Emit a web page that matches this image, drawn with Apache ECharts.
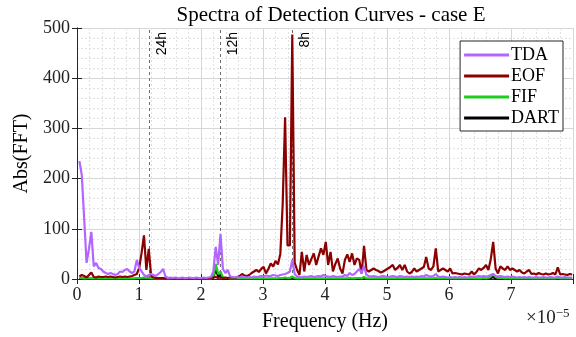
<!DOCTYPE html>
<html>
<head>
<meta charset="utf-8">
<script src="https://cdn.jsdelivr.net/npm/echarts@6/dist/echarts.min.js"></script>
<style>html,body{margin:0;padding:0;background:#fff}#c{width:576px;height:337px}</style>
</head>
<body>
<div id="c"></div>
<script>
// frequency step: 1/(30 days) in units of 1e-5 Hz; bins 1..207
const freqStepE5 = 0.03858;
const xTicks = [0, 1, 2, 3, 4, 5, 6, 7];
const yTicks = [0, 100, 200, 300, 400, 500];
const periodLines = [1.1574, 2.3148, 3.4722];
const periodLabels = ['24h', '12h', '8h'];
const seriesNames = ['TDA', 'EOF', 'FIF', 'DART'];

const tda = [
 235,207,120,32,60,94,25,32,22,20,
 15,12,10,12,10,8,10,15,14,18,
 20,15,12,15,38,22,15,8,5,8,
 10,8,6,10,14,20,5,2,3,2,
 3,2,2,3,2,2,3,2,2,3,
 2,2,3,2,3,4,15,64,28,90,
 20,12,18,5,4,3,4,3,5,4,
 3,4,3,5,4,5,6,5,7,6,
 6,8,7,6,8,9,10,12,15,38,
 10,5,4,3,5,4,5,6,4,5,
 6,5,8,6,5,4,6,5,4,5,
 5,8,6,12,8,10,15,20,12,26,
 8,6,5,6,5,4,5,6,5,4,
 5,6,5,4,6,5,4,5,4,5,
 4,5,4,6,5,8,6,5,6,10,
 5,4,5,4,3,4,3,4,3,4,
 3,4,3,4,5,4,5,6,5,6,
 5,6,8,10,6,5,6,5,4,5,
 4,5,4,3,4,3,4,3,4,3,
 3,4,3,3,4,3,3,4,3,3,
 5,3,3,4,3,3,3
];
const eof = [
 5,8,6,3,8,13,4,3,5,4,
 4,5,4,5,4,3,4,5,4,5,
 4,5,6,8,10,22,52,87,18,60,
 6,3,2,2,2,2,1,2,2,1,
 1,2,1,1,2,1,1,1,2,1,
 1,1,2,1,2,2,3,4,2,3,
 2,3,2,3,3,2,4,6,10,7,
 6,8,12,15,18,14,20,24,11,20,
 31,25,36,29,50,150,322,67,67,487,
 32,18,8,54,15,48,28,40,51,28,
 45,61,48,74,28,54,15,30,41,21,
 11,38,49,34,51,28,41,38,11,66,
 18,15,18,21,18,16,13,15,18,21,
 24,28,18,22,28,18,28,15,11,14,
 21,15,18,21,24,44,21,18,25,61,
 15,18,21,18,15,21,11,12,11,10,
 9,11,10,9,15,9,14,21,18,22,
 28,18,40,74,21,11,25,21,18,25,
 18,21,18,15,18,13,11,15,18,10,
 11,9,12,10,9,11,9,10,12,9,
 23,9,10,9,8,10,9
];
const fif = [
 2,2,1,1,2,1,1,1,1,1,
 1,1,1,1,1,1,1,1,1,1,
 1,1,1,1,2,2,2,3,2,3,
 1,1,1,1,1,1,1,1,1,1,
 1,1,1,1,1,1,1,1,1,1,
 1,1,1,1,1,1,4,30,10,15,
 3,2,2,1,1,1,1,1,1,1,
 1,1,1,1,1,1,1,1,1,1,
 1,1,1,1,2,2,3,2,2,5,
 2,1,1,1,1,1,1,1,1,1,
 1,1,1,1,1,1,1,1,1,1,
 1,1,1,2,1,1,2,2,1,4,
 1,1,1,1,1,1,1,1,1,1,
 1,1,1,1,1,1,1,1,1,1,
 1,1,1,1,1,1,1,1,1,2,
 1,1,1,1,1,1,1,1,1,1,
 1,1,1,1,1,1,1,1,1,2,
 1,2,5,10,4,2,2,2,1,2,
 1,1,1,1,1,1,1,1,1,1,
 1,1,1,1,1,1,1,1,1,1,
 2,1,1,1,1,1,1
];
const dart = [
 1,1,1,0.5,1,0.5,0.5,0.5,0.5,0.5,
 0.5,0.5,0.5,0.5,0.5,0.5,0.5,0.5,0.5,0.5,
 0.5,0.5,0.5,0.5,1,1,1,2,1,3,
 0.5,0.5,0.5,0.5,0.5,0.5,0.5,0.5,0.5,0.5,
 0.5,0.5,0.5,0.5,0.5,0.5,0.5,0.5,0.5,0.5,
 0.5,0.5,0.5,0.5,0.5,0.5,2,20,5,8,
 1,0.5,0.5,0.5,0.5,0.5,0.5,0.5,0.5,0.5,
 0.5,0.5,0.5,0.5,0.5,0.5,0.5,0.5,0.5,0.5,
 0.5,0.5,0.5,0.5,1,1,1,1,1,3,
 1,0.5,0.5,0.5,0.5,0.5,0.5,0.5,0.5,0.5,
 0.5,0.5,0.5,0.5,0.5,0.5,0.5,0.5,0.5,0.5,
 0.5,0.5,0.5,0.5,0.5,0.5,0.5,0.5,0.5,1,
 0.5,0.5,0.5,0.5,0.5,0.5,0.5,0.5,0.5,0.5,
 0.5,0.5,0.5,0.5,0.5,0.5,0.5,0.5,0.5,0.5,
 0.5,0.5,0.5,0.5,0.5,0.5,0.5,0.5,0.5,0.5,
 0.5,0.5,0.5,0.5,0.5,0.5,0.5,0.5,0.5,0.5,
 0.5,0.5,0.5,0.5,0.5,0.5,0.5,0.5,0.5,0.5,
 0.5,1,2,4,1,0.5,0.5,0.5,0.5,0.5,
 0.5,0.5,0.5,0.5,0.5,0.5,0.5,0.5,0.5,0.5,
 0.5,0.5,0.5,0.5,0.5,0.5,0.5,0.5,0.5,0.5,
 1,0.5,0.5,0.5,0.5,0.5,0.5
];

const colors = ['#b266ff', '#8b0000', '#1fcc1f', '#000000'];
const serif = 'Liberation Serif';
const pair = arr => arr.map((v, i) => [(i + 1) * freqStepE5, v]);
const allData = [tda, eof, fif, dart];

const chart = echarts.init(document.getElementById('c'), null, {renderer: 'canvas'});
const gridLine = {show: true, lineStyle: {color: '#d6d6d6', width: 1, type: 'solid'}};
const minorLine = {show: true, lineStyle: {color: '#e0e0e0', width: 1, type: [2, 2]}};
const axisLineStyle = {show: true, lineStyle: {color: '#262626', width: 1}};

const series = seriesNames.map((n, k) => ({
  name: n, type: 'line', data: pair(allData[k]), symbol: 'none',
  lineStyle: {color: colors[k], width: 2.2}, itemStyle: {color: colors[k]},
  z: 10 - k, animation: false
}));
series.push({
  type: 'line', data: [], silent: true, animation: false,
  markLine: {
    symbol: 'none', silent: true, animation: false,
    lineStyle: {color: '#6e6e6e', type: [3, 3], width: 1},
    label: {show: true, position: 'insideEndBottom', distance: [4, 6],
      fontFamily: 'Liberation Sans', fontSize: 14, color: '#000',
      formatter: p => p.name},
    data: periodLines.map((x, i) => ({xAxis: x, name: periodLabels[i]}))
  }
});

chart.setOption({
  animation: false,
  backgroundColor: '#fff',
  title: {text: 'Spectra of Detection Curves - case E', left: 326, textAlign: 'center', top: 0,
    textStyle: {fontFamily: serif, fontSize: 21, fontWeight: 'normal', color: '#000'}},
  legend: {
    data: seriesNames, right: 13, top: 41, orient: 'vertical',
    itemWidth: 45, itemHeight: 3, itemGap: 3, padding: [5, 4, 4, 4],
    borderColor: '#262626', borderWidth: 1, backgroundColor: '#fff',
    textStyle: {fontFamily: serif, fontSize: 18, color: '#000', padding: [0, 0, 0, -3]},
    icon: 'rect'
  },
  grid: {left: 77, right: 1, top: 28, bottom: 58, containLabel: false},
  xAxis: [{
    type: 'value', min: 0, max: 8, interval: 1,
    name: 'Frequency (Hz)', nameLocation: 'middle', nameGap: 33,
    nameTextStyle: {fontFamily: serif, fontSize: 20, color: '#000'},
    axisLine: axisLineStyle,
    axisTick: {show: true, inside: true, length: 5, lineStyle: {color: '#262626'}},
    axisLabel: {fontFamily: serif, fontSize: 18, color: '#222', margin: 7,
      formatter: v => xTicks.indexOf(v) >= 0 ? String(v) : ''},
    splitLine: gridLine, minorTick: {show: false, splitNumber: 5}, minorSplitLine: minorLine
  }, {
    type: 'value', min: 0, max: 8, interval: 1, position: 'top',
    axisLine: axisLineStyle,
    axisTick: {show: true, inside: true, length: 5, lineStyle: {color: '#262626'}},
    axisLabel: {show: false}, splitLine: {show: false}
  }],
  yAxis: [{
    type: 'value', min: 0, max: 500, interval: 100,
    name: 'Abs(FFT)', nameLocation: 'middle', nameGap: 43,
    nameTextStyle: {fontFamily: serif, fontSize: 20, color: '#000'},
    axisLine: axisLineStyle,
    axisTick: {show: true, inside: true, length: 5, lineStyle: {color: '#262626'}},
    axisLabel: {fontFamily: serif, fontSize: 18, color: '#222', margin: 7,
      formatter: v => yTicks.indexOf(v) >= 0 ? String(v) : ''},
    splitLine: gridLine, minorTick: {show: false, splitNumber: 5}, minorSplitLine: minorLine
  }, {
    type: 'value', min: 0, max: 500, interval: 100, position: 'right',
    axisLine: axisLineStyle,
    axisTick: {show: true, inside: true, length: 5, lineStyle: {color: '#262626'}},
    axisLabel: {show: false}, splitLine: {show: false}
  }],
  graphic: [{
    type: 'text', left: 526, top: 307,
    style: {text: '×10{s|−5}', fontFamily: serif, fontSize: 19, fill: '#222',
      rich: {s: {fontFamily: serif, fontSize: 13, fill: '#222', verticalAlign: 'top', padding: [0, 0, 9, 0]}}}
  }],
  series: series
});
</script>
</body>
</html>
